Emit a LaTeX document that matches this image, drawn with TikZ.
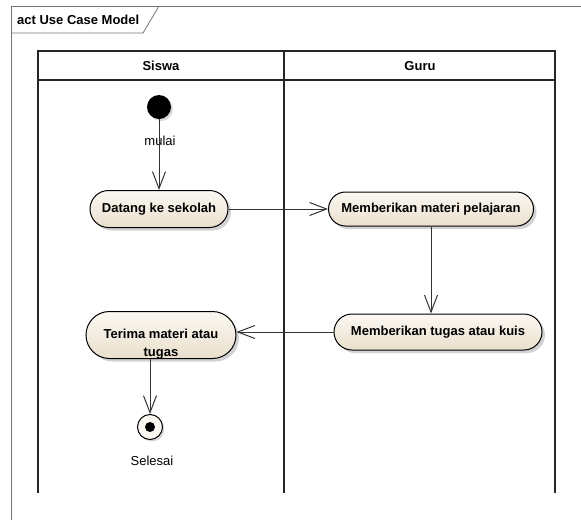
\documentclass[tikz,border=0pt]{standalone}
\usepackage{fontspec}
\setmainfont{Liberation Sans}
\usetikzlibrary{arrows.meta,shapes.misc,shadows}

\definecolor{actTop}{RGB}{251,248,242}
\definecolor{actBot}{RGB}{234,223,205}

\tikzset{
  frame/.style={draw=black!55, line width=0.8pt},
  lane/.style={draw=black!85, line width=1.3pt},
  action/.style={rounded rectangle, draw=black, line width=1pt,
    top color=actTop, bottom color=actBot,
    drop shadow={shadow xshift=3pt, shadow yshift=-3pt, fill=black!35},
    inner sep=0pt, font=\bfseries\fontsize{13}{18}\selectfont, align=center},
  actiontext/.style={font=\bfseries\fontsize{13}{18}\selectfont, align=center, inner sep=0pt},
  head/.style={font=\bfseries\fontsize{13}{14}\selectfont, inner sep=0pt},
  lab/.style={font=\fontsize{13}{14}\selectfont, inner sep=0pt},
  flow/.style={draw=black!80, line width=1pt,
    -{Straight Barb[length=17pt,width=13pt,line width=1pt]}},
}

\begin{document}
\begin{tikzpicture}[x=1pt,y=-1pt]
\useasboundingbox (0,0) rectangle (581,520);

% diagram frame and its name tab
\draw[frame] (11,520) -- (11,6) -- (581,6);
\draw[frame] (11,33) -- (143,33) -- (159,6);
\node[head, anchor=west] (title) at (17,20) {act Use Case Model};

% swimlanes
\draw[lane] (38,493) -- (38,51) -- (555,51) -- (555,493);
\draw[lane] (284,51) -- (284,493);
\draw[lane] (38,80) -- (555,80);
\node[head] (siswa) at (161,66) {Siswa};
\node[head] (guru) at (420,66) {Guru};

% initial and final nodes
\node[circle, fill=black, minimum size=24pt, inner sep=0pt,
  drop shadow={shadow xshift=2pt, shadow yshift=-2pt, fill=black!30}] (start) at (159,107) {};
\node[lab] (mulai) at (160,141) {mulai};

\node[circle, draw=black, line width=1pt, fill=actTop, minimum size=25pt, inner sep=0pt,
  drop shadow={shadow xshift=2pt, shadow yshift=-2pt, fill=black!30}] (fin) at (150,427) {};
\node[circle, fill=black, minimum size=10pt, inner sep=0pt] (findot) at (fin.center) {};
\node[lab] (selesai) at (152,461) {Selesai};

% actions
\node[action, minimum width=138pt, minimum height=37pt] (datang) at (159,209) {Datang ke sekolah};
\node[action, minimum width=205pt, minimum height=34pt] (materi) at (431,209) {Memberikan materi pelajaran};
\node[action, minimum width=208pt, minimum height=36pt] (tugas) at (438,332) {Memberikan tugas atau kuis};
\node[action, minimum width=150pt, minimum height=47pt] (terima) at (161,335) {};
\node[actiontext] (terimatext) at (161,344) {Terima materi atau\\tugas};

% control flows
\draw[flow] (start) -- (datang.north);
\draw[flow] (datang.east) -- (materi.west);
\draw[flow] (materi.south) -- (materi.south |- tugas.north);
\draw[flow] (tugas.west) -- (terima.east |- tugas.west);
\draw[flow] (terima.south -| fin) -- (fin.north);
\end{tikzpicture}
\end{document}
